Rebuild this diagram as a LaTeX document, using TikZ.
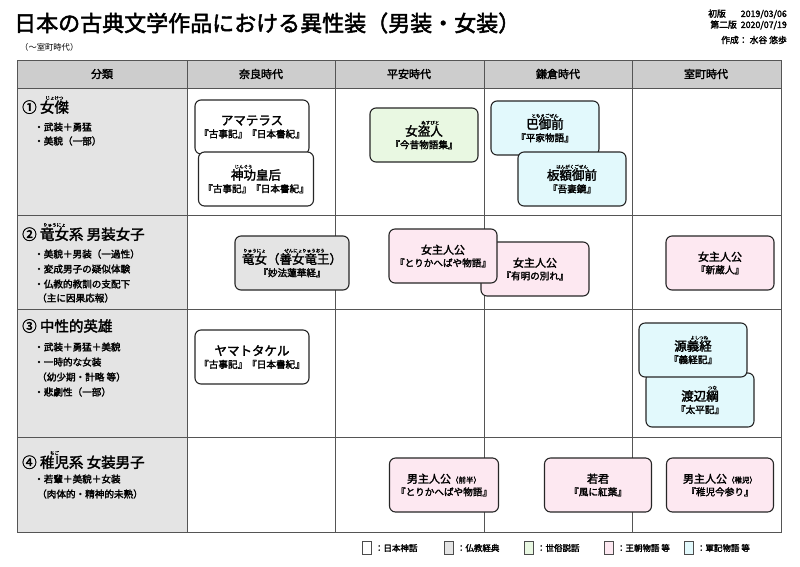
\documentclass[tikz,border=0pt]{standalone}
\usepackage{fontspec}
\setmainfont{Noto Sans CJK JP}[AutoFakeBold=2.2]
\newcommand\rb[2]{\leavevmode\vbox{\offinterlineskip\halign{\hfil##\hfil\cr{\fontsize{4.5}{5}\selectfont #2}\cr\noalign{\kern0.5pt}#1\cr}}}
\newcommand\fs[1]{\fontsize{#1}{#1}\selectfont}
\definecolor{pinkf}{HTML}{FDE8F1}
\definecolor{greenf}{HTML}{E9F8E2}
\definecolor{bluef}{HTML}{E2F9FC}
\definecolor{grayf}{HTML}{E4E4E4}
\definecolor{headf}{HTML}{CDCDCD}
\definecolor{gridc}{HTML}{555555}
\tikzset{
 work/.style={draw=black!85,line width=1.1pt,rounded corners=6pt,minimum width=108pt,minimum height=54pt,align=center,inner sep=2pt,font=\fs{9.6}\bfseries},
 shinwa/.style={work,fill=white},
 bukkyo/.style={work,fill=grayf},
 setsuwa/.style={work,fill=greenf},
 ocho/.style={work,fill=pinkf},
 gunki/.style={work,fill=bluef},
 cat/.style={anchor=west,font=\fs{14.5}\bfseries,inner sep=0pt},
 bul/.style={anchor=west,font=\fs{9.6}\bfseries,inner sep=0pt},
 head/.style={font=\fs{11}\bfseries},
 leg/.style={draw=black!70,line width=0.5pt,minimum width=9pt,minimum height=13pt,inner sep=0pt},
 legt/.style={anchor=west,font=\fs{8.5}\bfseries,inner sep=0pt}
}
\newcommand\mt[1]{{\fs{12.5}#1}}
\newcommand\ms[1]{{\fs{11}#1}}
\begin{document}
\begin{tikzpicture}[x=1pt,y=-1pt]
\useasboundingbox (0,0) rectangle (800,566);
\fill[white] (0,0) rectangle (800,566);
% title
\node[anchor=west,inner sep=0pt,font=\fs{22}\bfseries] (title) at (14,23) {日本の古典文学作品における異性装（男装・女装）};
\node[anchor=west,inner sep=0pt,font=\fs{8.3}] (sub) at (20,47) {（〜室町時代）};
\node[anchor=east,inner sep=0pt,font=\fs{8.8}\bfseries] (v1) at (787,14) {初版\hspace{15pt}2019/03/06};
\node[anchor=east,inner sep=0pt,font=\fs{8.8}\bfseries] (v2) at (787,25) {第二版\hspace{4pt}2020/07/19};
\node[anchor=east,inner sep=0pt,font=\fs{8.8}\bfseries] (v3) at (787,40) {作成： 水谷 悠歩};
% grid
\fill[headf] (17,60) rectangle (781,88);
\fill[grayf] (17,88) rectangle (187,532);
\draw[gridc,line width=0.8pt] (17,60) rectangle (781,532);
\foreach \x in {187,335,484,632} \draw[gridc,line width=0.8pt] (\x,60) -- (\x,532);
\foreach \y in {88,215,309,437} \draw[gridc,line width=0.8pt] (17,\y) -- (781,\y);
\node[head] (h0) at (102,74) {分類};
\node[head] (h1) at (261,74) {奈良時代};
\node[head] (h2) at (409,74) {平安時代};
\node[head] (h3) at (558,74) {鎌倉時代};
\node[head] (h4) at (706,74) {室町時代};
% categories
\node[cat] (c1) at (22,105) {① \rb{女傑}{じょけつ}};
\node[bul] (b11) at (34,127) {・武装＋勇猛};
\node[bul] (b12) at (34,141) {・美貌（一部）};
\node[cat] (c2) at (22,232) {② \rb{竜女}{りゅうにょ}系 男装女子};
\node[bul] (b21) at (34,254) {・美貌＋男装（一過性）};
\node[bul] (b22) at (34,269) {・変成男子の疑似体験};
\node[bul] (b23) at (34,284) {・仏教的教訓の支配下};
\node[bul] (b24) at (37,298) {（主に因果応報）};
\node[cat] (c3) at (22,326) {③ 中性的英雄};
\node[bul] (b31) at (34,347) {・武装＋勇猛＋美貌};
\node[bul] (b32) at (34,362) {・一時的な女装};
\node[bul] (b33) at (37,377) {（幼少期・計略 等）};
\node[bul] (b34) at (34,392) {・悲劇性（一部）};
\node[cat] (c4) at (22,460) {④ \rb{稚児}{ちご}系 女装男子};
\node[bul] (b41) at (34,479) {・若輩＋美貌＋女装};
\node[bul] (b42) at (37,494) {（肉体的・精神的未熟）};
% row 1
\node[shinwa,minimum width=114pt] (amaterasu) at (252,127) {\mt{アマテラス}\\[3pt]『古事記』『日本書紀』};
\node[shinwa,minimum width=115pt] (jingu) at (256,179) {\mt{\rb{神功}{じんぐう}皇后}\\[3pt]『古事記』『日本書紀』};
\node[setsuwa] (nusubito) at (424,135) {\mt{女\rb{盗人}{ぬすびと}}\\[3pt]『今昔物語集』};
\node[gunki] (tomoe) at (545,128) {\mt{\rb{巴御前}{ともえごぜん}}\\[3pt]『平家物語』};
\node[gunki] (hangaku) at (572,179) {\mt{\rb{板額御前}{はんがくごぜん}}\\[3pt]『吾妻鏡』};
% row 2
\node[bukkyo,minimum width=114pt] (ryunyo) at (292,263) {\mt{\rb{竜女}{りゅうにょ}（\rb{善女竜王}{ぜんにょりゅうおう}）}\\[3pt]『妙法蓮華経』};
\node[ocho] (ariake) at (535,269) {\ms{女主人公}\\[3pt]『有明の別れ』};
\node[ocho] (torikaeF) at (443,256) {\ms{女主人公}\\[3pt]『とりかへばや物語』};
\node[ocho] (shinkurodo) at (720,263) {\ms{女主人公}\\[3pt]『新蔵人』};
% row 3
\node[shinwa,minimum width=114pt] (yamato) at (252,357) {\mt{ヤマトタケル}\\[3pt]『古事記』『日本書紀』};
\node[gunki] (tsuna) at (700,400) {\mt{渡辺\rb{綱}{つな}}\\[3pt]『太平記』};
\node[gunki] (yoshitsune) at (693,350) {\mt{源\rb{義経}{よしつね}}\\[3pt]『義経記』};
% row 4
\node[ocho,minimum width=109pt] (torikaeM) at (444,485) {\ms{男主人公}{\fs{7.5}（前半）}\\[3pt]『とりかへばや物語』};
\node[ocho,minimum width=107pt] (wakagimi) at (598,485) {\ms{若君}\\[3pt]『風に紅葉』};
\node[ocho,minimum width=107pt] (chigo) at (720,485) {\ms{男主人公}{\fs{7.5}（稚児）}\\[3pt]『稚児今参り』};
% legend
\node[leg,fill=white] (l1) at (367,548) {};
\node[legt] (t1) at ([xshift=3pt]l1.east) {：日本神話};
\node[leg,fill=grayf] (l2) at (449,548) {};
\node[legt] (t2) at ([xshift=3pt]l2.east) {：仏教経典};
\node[leg,fill=greenf] (l3) at (529,548) {};
\node[legt] (t3) at ([xshift=3pt]l3.east) {：世俗説話};
\node[leg,fill=pinkf] (l4) at (609,548) {};
\node[legt] (t4) at ([xshift=3pt]l4.east) {：王朝物語 等};
\node[leg,fill=bluef] (l5) at (689,548) {};
\node[legt] (t5) at ([xshift=3pt]l5.east) {：軍記物語 等};
\end{tikzpicture}
\end{document}
